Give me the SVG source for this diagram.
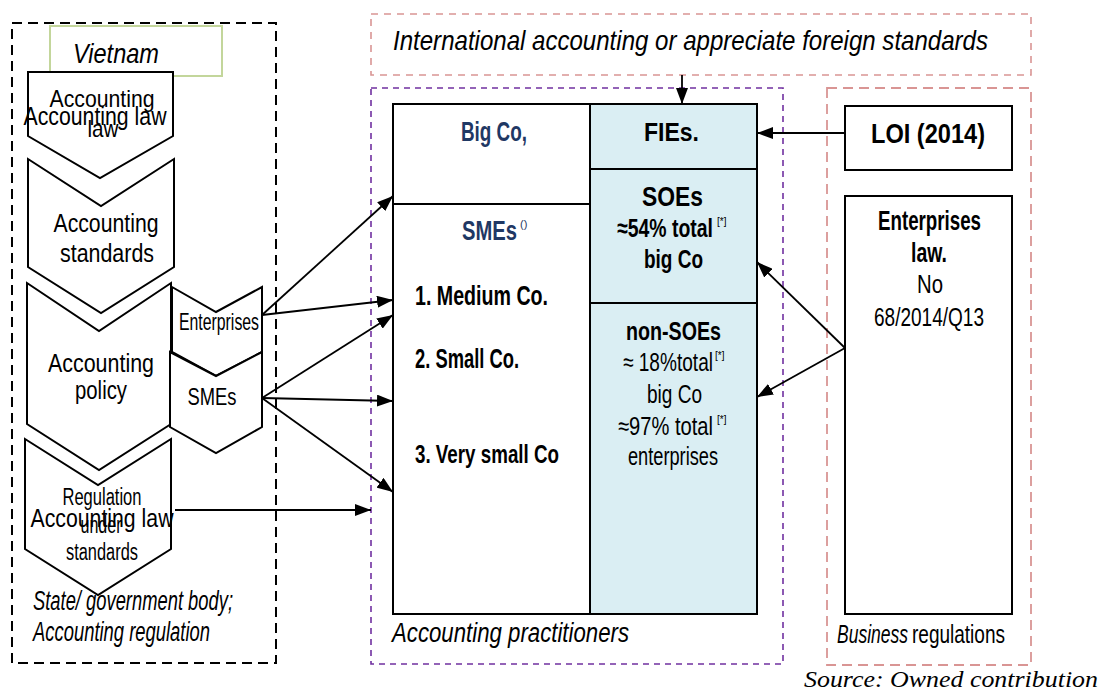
<svg xmlns="http://www.w3.org/2000/svg" width="1108" height="690" viewBox="0 0 1108 690">
<style>
text{font-family:"Liberation Sans",Arial,sans-serif;fill:#000;}
text.serif{font-family:"Liberation Serif","Times New Roman",serif;}
.t{text-anchor:middle;}
.b{font-weight:bold;}
.i{font-style:italic;}
.navy{fill:#1F3864;}
.shape{fill:#fff;stroke:#000;stroke-width:2;}
.cell{stroke:#000;stroke-width:2;}
.conn{stroke:#000;stroke-width:1.8;fill:none;marker-end:url(#ah);}
</style>
<defs>
<marker id="ah" viewBox="0 0 16 12" refX="16" refY="6" markerWidth="16" markerHeight="12" markerUnits="userSpaceOnUse" orient="auto">
<path d="M0,0 L16,6 L0,12 z" fill="#000"/>
</marker>
</defs>
<rect width="1108" height="690" fill="#fff"/>

<g id="frame-state">
<rect x="12" y="23" width="264" height="640" fill="none" stroke="#000" stroke-width="2" stroke-dasharray="10,6"/>
<text x="33" y="610" class="i" font-size="27" textLength="200" lengthAdjust="spacingAndGlyphs">State/ government body;</text>
<text x="33" y="641" class="i" font-size="27" textLength="177" lengthAdjust="spacingAndGlyphs">Accounting regulation</text>
</g>
<g id="frame-international">
<rect x="371" y="14" width="660" height="61" fill="none" stroke="#D99594" stroke-width="1.6" stroke-dasharray="7,6"/>
<text x="393" y="50" class="i" font-size="28" textLength="595" lengthAdjust="spacingAndGlyphs">International accounting or appreciate foreign standards</text>
</g>
<g id="frame-practitioners">
<rect x="371" y="88" width="412" height="576" fill="none" stroke="#7030A0" stroke-width="1.6" stroke-dasharray="6,5"/>
<text x="392" y="642" class="i" font-size="27" textLength="237" lengthAdjust="spacingAndGlyphs">Accounting practitioners</text>
</g>
<g id="frame-business">
<rect x="827" y="88" width="204" height="577" fill="none" stroke="#D99594" stroke-width="1.8" stroke-dasharray="10,6"/>
<text x="837" y="643" font-size="26"><tspan class="i" textLength="71" lengthAdjust="spacingAndGlyphs">Business</tspan><tspan x="912" textLength="93" lengthAdjust="spacingAndGlyphs">regulations</tspan></text>
</g>

<g id="vietnam">
<rect x="50" y="26" width="172" height="50" fill="#fff" stroke="#C3D69B" stroke-width="2"/>
<text x="73" y="63" class="i" font-size="28" textLength="86" lengthAdjust="spacingAndGlyphs">Vietnam</text>
</g>

<g id="accounting-law">
<polygon class="shape" points="28,72 173,72 173,136 100,178 28,136"/>
<text x="102" y="107" class="t" font-size="24" textLength="105" lengthAdjust="spacingAndGlyphs">Accounting</text>
<text x="103" y="137" class="t" font-size="24" textLength="31" lengthAdjust="spacingAndGlyphs">law</text>
<text x="95" y="125" class="t" font-size="26" textLength="143" lengthAdjust="spacingAndGlyphs">Accounting law</text>
</g>
<g id="accounting-standards">
<polygon class="shape" points="28,159 101,206 174,159 174,267 101,313 28,267"/>
<text x="106" y="232" class="t" font-size="25" textLength="105" lengthAdjust="spacingAndGlyphs">Accounting</text>
<text x="107" y="262" class="t" font-size="25" textLength="94" lengthAdjust="spacingAndGlyphs">standards</text>
</g>
<g id="accounting-policy">
<polygon class="shape" points="27,283 99,331 171,283 171,424 99,470 27,424"/>
<text x="101" y="372" class="t" font-size="25" textLength="106" lengthAdjust="spacingAndGlyphs">Accounting</text>
<text x="101" y="399" class="t" font-size="25" textLength="52" lengthAdjust="spacingAndGlyphs">policy</text>
</g>
<g id="enterprises-chevron">
<polygon class="shape" points="172,287 216,312 262,287 262,352 216,376 172,352"/>
<text x="219" y="330" class="t" font-size="24" textLength="80" lengthAdjust="spacingAndGlyphs">Enterprises</text>
</g>
<g id="smes-chevron">
<polygon class="shape" points="170,352 216,376 262,352 262,427 216,453 170,427"/>
<text x="212" y="405" class="t" font-size="24" textLength="49" lengthAdjust="spacingAndGlyphs">SMEs</text>
</g>
<g id="regulation-under-standards">
<polygon class="shape" points="25,439 98,485 171,439 171,549 98,595 25,549"/>
<text x="102" y="505" class="t" font-size="23" textLength="79" lengthAdjust="spacingAndGlyphs">Regulation</text>
<text x="101" y="533" class="t" font-size="23" textLength="41" lengthAdjust="spacingAndGlyphs">under</text>
<text x="102" y="560" class="t" font-size="23" textLength="72" lengthAdjust="spacingAndGlyphs">standards</text>
<text x="102" y="527" class="t" font-size="26" textLength="143" lengthAdjust="spacingAndGlyphs">Accounting law</text>
</g>

<g id="table">
<rect x="590" y="104" width="167" height="510" fill="#DAEEF3"/>
<rect x="393" y="104" width="364" height="510" fill="none" class="cell"/>
<line x1="590" y1="104" x2="590" y2="614" class="cell"/>
<line x1="393" y1="204" x2="590" y2="204" class="cell"/>
<line x1="590" y1="169" x2="757" y2="169" class="cell"/>
<line x1="590" y1="303" x2="757" y2="303" class="cell"/>
</g>
<g id="big-co">
<text x="461" y="141" class="b navy" font-size="27" textLength="66" lengthAdjust="spacingAndGlyphs">Big Co,</text>
</g>
<g id="smes">
<text x="462" y="240" class="b navy" font-size="27"><tspan textLength="55" lengthAdjust="spacingAndGlyphs">SMEs</tspan><tspan font-size="11" font-weight="normal" dx="3" dy="-12">()</tspan></text>
<text x="415" y="305" class="b" font-size="27" textLength="133" lengthAdjust="spacingAndGlyphs">1. Medium Co.</text>
<text x="415" y="368" class="b" font-size="27" textLength="104" lengthAdjust="spacingAndGlyphs">2. Small Co.</text>
<text x="415" y="463" class="b" font-size="26" textLength="144" lengthAdjust="spacingAndGlyphs">3. Very small Co</text>
</g>
<g id="fies">
<text x="644" y="141" class="b" font-size="25" textLength="55" lengthAdjust="spacingAndGlyphs">FIEs.</text>
</g>
<g id="soes">
<text x="642" y="206" class="b" font-size="27" textLength="61" lengthAdjust="spacingAndGlyphs">SOEs</text>
<text x="617" y="237" class="b" font-size="26"><tspan textLength="96" lengthAdjust="spacingAndGlyphs">≈54% total</tspan><tspan font-size="10" font-weight="normal" dx="4" dy="-12">[*]</tspan></text>
<text x="644" y="268" class="b" font-size="26" textLength="59" lengthAdjust="spacingAndGlyphs">big Co</text>
</g>
<g id="non-soes">
<text x="626" y="340" class="b" font-size="26" textLength="95" lengthAdjust="spacingAndGlyphs">non-SOEs</text>
<text x="623" y="371" font-size="26"><tspan textLength="90" lengthAdjust="spacingAndGlyphs">≈ 18%total</tspan><tspan font-size="10" dx="2" dy="-12">[*]</tspan></text>
<text x="647" y="403" font-size="26" textLength="55" lengthAdjust="spacingAndGlyphs">big Co</text>
<text x="618" y="435" font-size="26"><tspan textLength="95" lengthAdjust="spacingAndGlyphs">≈97% total</tspan><tspan font-size="10" dx="4" dy="-12">[*]</tspan></text>
<text x="628" y="465" font-size="26" textLength="90" lengthAdjust="spacingAndGlyphs">enterprises</text>
</g>

<g id="loi">
<rect x="845" y="106" width="167" height="64" class="shape"/>
<text x="871" y="143" class="b" font-size="27" textLength="114" lengthAdjust="spacingAndGlyphs">LOI (2014)</text>
</g>
<g id="enterprises-law">
<rect x="845" y="196" width="167" height="418" class="shape"/>
<text x="878" y="230" class="b" font-size="27" textLength="103" lengthAdjust="spacingAndGlyphs">Enterprises</text>
<text x="911" y="262" class="b" font-size="27" textLength="36" lengthAdjust="spacingAndGlyphs">law.</text>
<text x="917" y="293" font-size="26" textLength="26" lengthAdjust="spacingAndGlyphs">No</text>
<text x="874" y="326" font-size="26" textLength="110" lengthAdjust="spacingAndGlyphs">68/2014/Q13</text>
</g>

<g id="connectors">
<line class="conn" x1="682" y1="75" x2="682" y2="104"/>
<line class="conn" x1="845" y1="133" x2="757" y2="133"/>
<line class="conn" x1="845" y1="348" x2="757" y2="262"/>
<line class="conn" x1="845" y1="348" x2="757" y2="397"/>
<line class="conn" x1="262" y1="315" x2="393" y2="196"/>
<line class="conn" x1="262" y1="315" x2="393" y2="300"/>
<line class="conn" x1="262" y1="398" x2="393" y2="315"/>
<line class="conn" x1="262" y1="398" x2="393" y2="401"/>
<line class="conn" x1="262" y1="398" x2="393" y2="492"/>
<line class="conn" x1="175" y1="510" x2="371" y2="510"/>
</g>

<text class="serif i" x="804" y="687" font-size="23" textLength="294" lengthAdjust="spacingAndGlyphs">Source: Owned contribution</text>
</svg>
